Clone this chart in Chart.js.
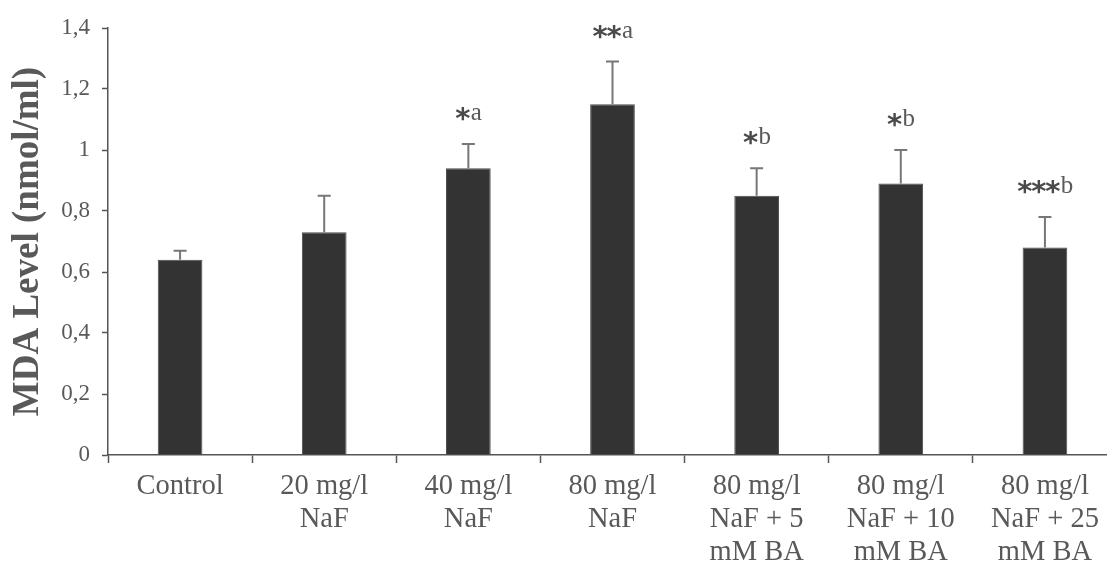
<!DOCTYPE html>
<html>
<head>
<meta charset="utf-8">
<script src="https://cdn.jsdelivr.net/npm/chart.js@4"></script>
<style>
  html, body { margin: 0; padding: 0; background: #fff; overflow: hidden; }
  #wrap { width: 1125px; height: 568px; position: relative; }
</style>
</head>
<body>
<div id="wrap"><canvas id="c"></canvas></div>
<script>
const categories = [
  ['Control'],
  ['20 mg/l', 'NaF'],
  ['40 mg/l', 'NaF'],
  ['80 mg/l', 'NaF'],
  ['80 mg/l', 'NaF + 5', 'mM BA'],
  ['80 mg/l', 'NaF + 10', 'mM BA'],
  ['80 mg/l', 'NaF + 25', 'mM BA']
];
const mdaMeans = [0.64, 0.73, 0.94, 1.15, 0.85, 0.89, 0.68];
const mdaErrors = [0.03, 0.12, 0.08, 0.14, 0.09, 0.11, 0.10];
const sigStars = ['', '', '*', '**', '*', '*', '***'];
const sigLetters = ['', '', 'a', 'a', 'b', 'b', 'b'];
const yTickValues = [0, 0.2, 0.4, 0.6, 0.8, 1, 1.2, 1.4];
const yTickLabels = ['0', '0,2', '0,4', '0,6', '0,8', '1', '1,2', '1,4'];

const TEXT = '#595959';
const AXIS = '#555555';

const errorBarPlugin = {
  id: 'errorBars',
  afterDatasetsDraw(chart) {
    const ctx = chart.ctx;
    const meta = chart.getDatasetMeta(0);
    const y = chart.scales.y;
    ctx.save();
    ctx.strokeStyle = '#777777';
    ctx.lineWidth = 2;
    meta.data.forEach((bar, i) => {
      const top = y.getPixelForValue(mdaMeans[i] + mdaErrors[i]);
      const base = y.getPixelForValue(mdaMeans[i]);
      ctx.beginPath();
      ctx.moveTo(bar.x, base);
      ctx.lineTo(bar.x, top);
      ctx.moveTo(bar.x - 6.5, top);
      ctx.lineTo(bar.x + 6.5, top);
      ctx.stroke();
    });
    ctx.restore();
  }
};

const sigPlugin = {
  id: 'sigLabels',
  afterDatasetsDraw(chart) {
    const ctx = chart.ctx;
    const meta = chart.getDatasetMeta(0);
    const y = chart.scales.y;
    ctx.save();
    const starFont = 'bold 29px "DejaVu Sans"';
    const letFont = '25px "Liberation Serif"';
    meta.data.forEach((bar, i) => {
      const stars = sigStars[i];
      const letter = sigLetters[i];
      if (!stars && !letter) return;
      const cy = y.getPixelForValue(mdaMeans[i] + mdaErrors[i]) - 30;
      ctx.font = starFont;
      const sm = ctx.measureText('*');
      const starW = 14;
      ctx.font = letFont;
      const lm = ctx.measureText(letter);
      const total = starW * stars.length + lm.width;
      let x = bar.x - total / 2;
      ctx.textAlign = 'left';
      ctx.textBaseline = 'alphabetic';
      ctx.font = letFont;
      const xm = ctx.measureText('x');
      const letBase = cy + xm.actualBoundingBoxAscent / 2;
      ctx.font = starFont;
      const starBase = cy + (sm.actualBoundingBoxAscent - sm.actualBoundingBoxDescent) / 2;
      ctx.fillStyle = '#4a4a4a';
      for (let k = 0; k < stars.length; k++) {
        const g = ctx.measureText('*');
        const gx = x + (starW - (g.actualBoundingBoxRight + g.actualBoundingBoxLeft)) / 2 + g.actualBoundingBoxLeft;
        ctx.fillText('*', gx, starBase);
        x += starW;
      }
      ctx.font = letFont;
      ctx.fillStyle = TEXT;
      ctx.fillText(letter, x + 1, letBase);
    });
    ctx.restore();
  }
};

new Chart(document.getElementById('c'), {
  type: 'bar',
  data: {
    labels: categories,
    datasets: [{
      data: mdaMeans,
      backgroundColor: '#333333',
      borderColor: '#4d4d4d',
      borderWidth: 1,
      categoryPercentage: 1,
      barPercentage: 0.31
    }]
  },
  options: {
    responsive: true,
    maintainAspectRatio: false,
    animation: false,
    events: [],
    layout: { padding: { top: 28, right: 8, left: 0, bottom: 0 } },
    plugins: {
      legend: { display: false },
      tooltip: { enabled: false },
      title: { display: false }
    },
    scales: {
      x: {
        offset: true,
        grid: { offset: true, drawOnChartArea: false, drawTicks: true, tickLength: 8, tickColor: AXIS, tickWidth: 1.5 },
        border: { color: AXIS, width: 1.5 },
        ticks: {
          color: TEXT,
          padding: 7,
          maxRotation: 0,
          autoSkip: false,
          font: { family: '"Liberation Serif"', size: 28.5, lineHeight: 1.16 }
        },
        afterFit(scale) { scale.height = 113; }
      },
      y: {
        min: 0,
        max: 1.4,
        afterBuildTicks(scale) { scale.ticks = yTickValues.map(v => ({ value: v })); },
        grid: { drawOnChartArea: false, drawTicks: true, tickLength: 6, tickColor: AXIS, tickWidth: 1.5 },
        border: { color: AXIS, width: 1.5 },
        ticks: {
          color: TEXT,
          padding: 12,
          font: { family: '"Liberation Serif"', size: 23 },
          callback(value, index) { return yTickLabels[index]; }
        },
        title: {
          display: true,
          text: 'MDA Level (nmol/ml)',
          color: TEXT,
          padding: { top: 10, bottom: 0 },
          font: { family: '"Liberation Serif"', size: 37, weight: 'bold', lineHeight: 1 }
        },
        afterFit(scale) { scale.width = 108; }
      }
    }
  },
  plugins: [errorBarPlugin, sigPlugin]
});
</script>
</body>
</html>
